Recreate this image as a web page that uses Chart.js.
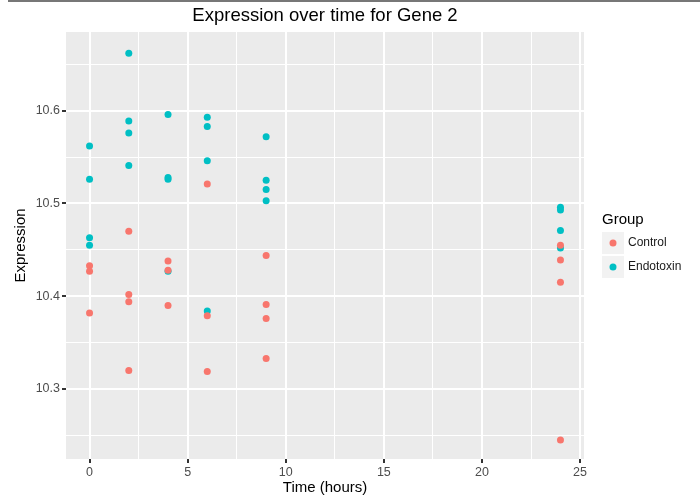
<!DOCTYPE html>
<html>
<head>
<meta charset="utf-8">
<script src="https://cdn.jsdelivr.net/npm/chart.js@4"></script>
<style>
  html, body { margin: 0; padding: 0; background: #fff; }
  canvas { display: block; }
</style>
</head>
<body>
<canvas id="geneChart" width="700" height="498"></canvas>
<script>
// data
var controlTime = [0, 0, 0, 2, 2, 2, 2, 4, 4, 4, 6, 6, 6, 9, 9, 9, 9, 24, 24, 24, 24];
var controlExpr = [10.433, 10.427, 10.382, 10.470, 10.402, 10.394, 10.320, 10.438, 10.428, 10.390,
                   10.521, 10.379, 10.319, 10.444, 10.391, 10.376, 10.333, 10.455, 10.439, 10.415, 10.245];
var endoTime = [0, 0, 0, 0, 2, 2, 2, 2, 4, 4, 4, 4, 6, 6, 6, 6, 9, 9, 9, 9, 24, 24, 24, 24];
var endoExpr = [10.562, 10.526, 10.463, 10.455, 10.662, 10.589, 10.576, 10.541, 10.596, 10.528, 10.526, 10.427,
                10.593, 10.583, 10.546, 10.384, 10.572, 10.525, 10.515, 10.503, 10.496, 10.493, 10.471, 10.452];

var xMajor = [0, 5, 10, 15, 20, 25];
var xTickLabels = ['0', '5', '10', '15', '20', '25'];
var xMinor = [2.5, 7.5, 12.5, 17.5, 22.5];
var yMajor = [10.3, 10.4, 10.5, 10.6];
var yTickLabels = ['10.3', '10.4', '10.5', '10.6'];
var yMinor = [10.25, 10.35, 10.45, 10.55, 10.65];

function toPoints(xs, ys) {
  return xs.map(function (x, i) { return { x: x, y: ys[i] }; });
}

function isMajor(list, v) {
  return list.some(function (m) { return Math.abs(m - v) < 1e-6; });
}

function labelFor(list, labels, v) {
  for (var i = 0; i < list.length; i++) {
    if (Math.abs(list[i] - v) < 1e-6) return labels[i];
  }
  return '';
}

var panelBg = {
  id: 'panelBg',
  beforeDraw: function (chart) {
    var c = chart.ctx, a = chart.chartArea;
    c.save();
    c.fillStyle = '#ebebeb';
    c.fillRect(a.left, a.top, a.right - a.left, a.bottom - a.top);
    // thin frame line along the top of the picture
    c.fillStyle = '#777777';
    c.fillRect(8, 0, 692, 2);
    c.restore();
  }
};

var ggTitle = {
  id: 'ggTitle',
  afterDraw: function (chart) {
    var c = chart.ctx, a = chart.chartArea;
    c.save();
    c.fillStyle = '#000';
    c.font = '18.5px "Liberation Sans", Arial, sans-serif';
    c.textAlign = 'center';
    c.textBaseline = 'middle';
    c.fillText('Expression over time for Gene 2', (a.left + a.right) / 2, 16);
    c.restore();
  }
};

var ggLegend = {
  id: 'ggLegend',
  afterDraw: function (chart) {
    var c = chart.ctx;
    c.save();
    c.fillStyle = '#000';
    c.font = '15px "Liberation Sans", Arial, sans-serif';
    c.textBaseline = 'middle';
    c.fillText('Group', 602, 220);
    chart.data.datasets.forEach(function (ds, i) {
      var top = 232 + i * 24;
      c.fillStyle = '#f2f2f2';
      c.fillRect(602, top, 22, 22);
      c.fillStyle = ds.backgroundColor;
      c.beginPath();
      c.arc(613, top + 11, 3.5, 0, Math.PI * 2);
      c.fill();
      c.fillStyle = '#1a1a1a';
      c.font = '12px "Liberation Sans", Arial, sans-serif';
      c.fillText(ds.label, 628, top + 11);
    });
    c.restore();
  }
};

var tickFont = { family: '"Liberation Sans", Arial, sans-serif', size: 12.5 };
var titleFont = { family: '"Liberation Sans", Arial, sans-serif', size: 15 };

var ctx = document.getElementById('geneChart').getContext('2d');
var geneChart = new Chart(ctx, {
  type: 'scatter',
  data: {
    datasets: [{
      label: 'Control',
      data: toPoints(controlTime, controlExpr),
      backgroundColor: '#f8766d',
      borderWidth: 0,
      pointRadius: 3.5
    }, {
      label: 'Endotoxin',
      data: toPoints(endoTime, endoExpr),
      backgroundColor: '#00bfc4',
      borderWidth: 0,
      pointRadius: 3.5
    }]
  },
  options: {
    responsive: false,
    animation: false,
    layout: { padding: { top: 32, right: 116, left: 0, bottom: 0 } },
    plugins: {
      legend: { display: false },
      title: { display: false },
      tooltip: { enabled: false }
    },
    scales: {
      x: {
        type: 'linear',
        min: -1.2,
        max: 25.2,
        afterBuildTicks: function (scale) {
          scale.ticks = xMajor.concat(xMinor).sort(function (a, b) { return a - b; })
            .map(function (v) { return { value: v }; });
        },
        afterFit: function (scale) { scale.height = 39; },
        border: { display: false },
        grid: {
          color: '#ffffff',
          lineWidth: function (c) { return isMajor(xMajor, c.tick.value) ? 2 : 1; },
          tickColor: function (c) { return isMajor(xMajor, c.tick.value) ? '#333333' : 'rgba(0,0,0,0)'; },
          tickLength: 4,
          tickWidth: 2
        },
        ticks: {
          autoSkip: false,
          maxRotation: 0,
          padding: 2,
          color: '#4d4d4d',
          font: tickFont,
          callback: function (v) { return labelFor(xMajor, xTickLabels, v); }
        },
        title: {
          display: true,
          text: 'Time (hours)',
          color: '#000',
          font: titleFont,
          padding: { top: 0, bottom: 1 }
        }
      },
      y: {
        type: 'linear',
        min: 10.2246,
        max: 10.6848,
        afterBuildTicks: function (scale) {
          scale.ticks = yMajor.concat(yMinor).sort(function (a, b) { return a - b; })
            .map(function (v) { return { value: v }; });
        },
        afterFit: function (scale) { scale.width = 66; },
        border: { display: false },
        grid: {
          color: '#ffffff',
          lineWidth: function (c) { return isMajor(yMajor, c.tick.value) ? 2 : 1; },
          tickColor: function (c) { return isMajor(yMajor, c.tick.value) ? '#333333' : 'rgba(0,0,0,0)'; },
          tickLength: 4,
          tickWidth: 2
        },
        ticks: {
          autoSkip: false,
          padding: 2,
          color: '#4d4d4d',
          font: tickFont,
          callback: function (v) { return labelFor(yMajor, yTickLabels, v); }
        },
        title: {
          display: true,
          text: 'Expression',
          color: '#000',
          font: titleFont,
          padding: { top: 12, bottom: 0 }
        }
      }
    }
  },
  plugins: [panelBg, ggTitle, ggLegend]
});
</script>
</body>
</html>
